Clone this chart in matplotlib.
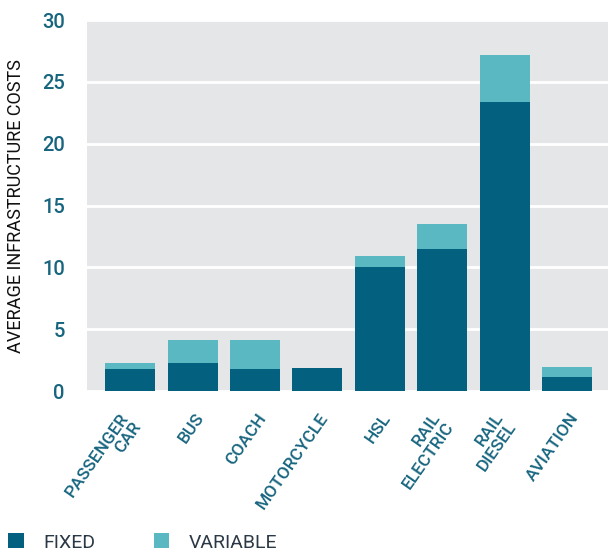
import matplotlib
matplotlib.use('Agg')
import matplotlib.pyplot as plt
import matplotlib.patches as mpatches
import matplotlib.transforms as mtransforms
import numpy as np

# Données
categories = ['PASSENGER\nCAR', 'BUS', 'COACH', 'MOTORCYCLE', 'HSL',
              'RAIL\nELECTRIC', 'RAIL\nDIESEL', 'AVIATION']
fixed = [1.8, 2.3, 1.8, 1.9, 10.0, 11.5, 23.4, 1.15]
variable = [0.5, 1.85, 2.35, 0.0, 0.9, 2.0, 3.8, 0.8]
yticks = [0, 5, 10, 15, 20, 25, 30]

# Couleurs
colors = {
    'fixed': '#04607F',
    'variable': '#59B8C2',
    'bg': '#E5E6E8',
    'tick': '#17657F',
    'text': '#2B3845',
}

plt.rcParams['font.family'] = ['Roboto', 'DejaVu Sans']

fig = plt.figure(figsize=(6.08, 5.58), dpi=100)
ax = fig.add_axes([0.143, 0.299, 0.857, 0.665])
ax.set_facecolor(colors['bg'])

x = np.arange(len(categories))
ax.bar(x, fixed, width=0.8, color=colors['fixed'], zorder=3)
ax.bar(x, variable, width=0.8, bottom=fixed, color=colors['variable'], zorder=3)

ax.set_xlim(-0.69, 7.65)
ax.set_ylim(0, 30)
ax.set_yticks(yticks)
ax.yaxis.grid(True, color='white', linewidth=2, zorder=1)
for s in ax.spines.values():
    s.set_visible(False)
ax.tick_params(axis='y', length=0, pad=16, labelsize=14.5, labelcolor=colors['tick'])
ax.tick_params(axis='x', length=0, pad=14, labelsize=12.5, labelcolor=colors['tick'])
for lab in ax.get_yticklabels():
    lab.set_fontweight('medium')

ax.set_xticks(x)
ax.set_xticklabels(categories, rotation=55, ha='right', va='top',
                   multialignment='right', linespacing=1.05)
offset = mtransforms.ScaledTranslation(14 / 100, 0, fig.dpi_scale_trans)
for lab in ax.get_xticklabels():
    lab.set_transform(lab.get_transform() + offset)
    lab.set_fontweight('medium')

ax.set_ylabel('AVERAGE INFRASTRUCTURE COSTS', fontsize=13, color='#111111',
              labelpad=12)

legend_elements = [
    mpatches.Rectangle((0, 0), 1, 1, facecolor=colors['fixed'], label='FIXED'),
    mpatches.Rectangle((0, 0), 1, 1, facecolor=colors['variable'], label='VARIABLE'),
]
leg = fig.legend(handles=legend_elements, loc='lower left', ncol=2,
                 bbox_to_anchor=(-0.015, -0.02), frameon=False, fontsize=14,
                 handlelength=0.8, handleheight=0.8, columnspacing=3.0,
                 handletextpad=1.0)
for t in leg.get_texts():
    t.set_color(colors['text'])

fig.savefig('out.png', dpi=100, facecolor='white')
